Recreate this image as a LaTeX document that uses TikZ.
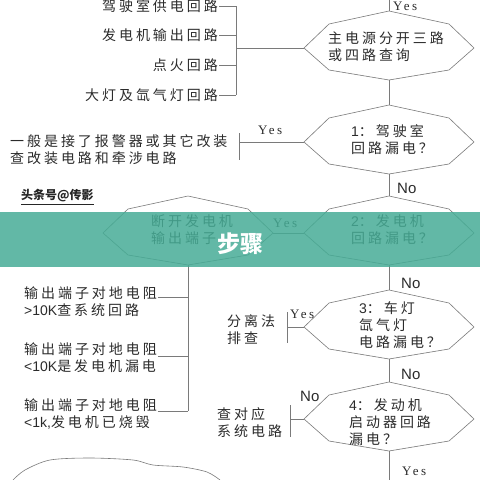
\documentclass[tikz,border=0pt]{standalone}
\usepackage{fontspec}
\newfontfamily\cjk[LetterSpace=21]{Noto Sans CJK SC}
\newfontfamily\cjkplain{Noto Sans CJK SC}
\newfontfamily\latin{Liberation Sans}
\newfontfamily\yesfont[LetterSpace=20]{Liberation Serif}
\newfontfamily\nofont{Liberation Sans}
\definecolor{ink}{HTML}{2B2B2B}
\definecolor{wire}{HTML}{7A7A7A}
\definecolor{band}{RGB}{70,172,150}
% octagon decision box: name, centre x, centre y
\newcommand{\decision}[3]{%
  \coordinate (#1-top) at (#2,#3-37);
  \coordinate (#1-bot) at (#2,#3+32);
  \coordinate (#1-left) at (#2-85,#3);
  \coordinate (#1-right) at (#2+85,#3);
  \draw[lane] (#1-left) -- (#2-60,#3-24) -- (#1-top) -- (#2+60,#3-24)
    -- (#1-right) -- (#2+60,#3+22) -- (#1-bot) -- (#2-60,#3+22) -- cycle;
}
\begin{document}
\begin{tikzpicture}
  [x=1pt, y=-1pt,
  every node/.style={inner sep=1pt, text=ink},
  lane/.style={draw=wire, line width=0.6pt},
  cn/.style={font=\cjk\fontsize{14}{17}\selectfont, align=left},
  yes/.style={font=\yesfont\fontsize{13}{13}\selectfont, anchor=base west, inner sep=0pt},
  no/.style={font=\nofont\fontsize{15}{15}\selectfont, anchor=base west, inner sep=0pt},
  ]
  \useasboundingbox (0,0) rectangle (480,480);

  % decision boxes
  \decision{d0}{389}{48}
  \decision{d1}{389}{142}
  \decision{d2}{389}{233}
  \decision{d3}{389}{327}
  \decision{d4}{389}{419}
  \decision{dl}{188}{233}

  \node[cn, anchor=west] (q0) at (327,47) {主电源分开三路\\或四路查询};
  \node[cn, anchor=west] (q1) at (350,140) {{\latin 1}：驾驶室\\回路漏电？};
  \node[cn, anchor=west] (q2) at (350,230) {{\latin 2}：发电机\\回路漏电？};
  \node[cn, anchor=west] (q3) at (358,325) {{\latin 3}：车灯\\氙气灯\\电路漏电？};
  \node[cn, anchor=west] (q4) at (348,422) {{\latin 4}：发动机\\启动器回路\\漏电？};
  \node[cn, anchor=west] (ql) at (150,230) {断开发电机\\输出端子};

  % main spine
  \coordinate (top) at (389,0);
  \coordinate (bottom) at (389,480);
  \draw[lane] (top) -- (d0-top);
  \draw[lane] (d0-bot) -- (d1-top);
  \draw[lane] (d1-bot) -- (d2-top);
  \draw[lane] (d2-bot) -- (d3-top);
  \draw[lane] (d3-bot) -- (d4-top);
  \draw[lane] (d4-bot) -- (bottom);
  \draw[lane] (dl-right) -- (d2-left);

  \node[yes] (y0) at (393,10) {Yes};
  \node[no] (n1) at (397,193) {No};
  \node[yes] (y2) at (273,227) {Yes};
  \node[no] (n2) at (401,288) {No};
  \node[no] (n3) at (401,379) {No};
  \node[yes] (y5) at (402,475) {Yes};

  % circuits of the main supply
  \coordinate (bus) at (236,48);
  \foreach \y/\t [count=\i] in {6/驾驶室供电回路, 35/发电机输出回路, 65/点火回路, 95/大灯及氙气灯回路} {
    \node[cn, anchor=east] (c\i) at (219,\y) {\t};
    \draw[lane] (c\i.east) -- (c\i.east -| bus);
  }
  \draw[lane] (c1.east -| bus) -- (c4.east -| bus);
  \draw[lane] (d0-left) -- (bus);

  % step 1 yes
  \node[yes] (y1) at (258,134) {Yes};
  \node[cn, anchor=west] (alarm) at (9,150) {一般是接了报警器或其它改装\\查改装电路和牵涉电路};
  \coordinate (b1a) at (239,133);
  \coordinate (b1b) at (239,160);
  \draw[lane] (b1a) -- (b1b);
  \draw[lane] (d1-left) -- (d1-left -| b1a);

  \node[font=\cjkplain\bfseries\fontsize{12}{12}\selectfont, anchor=west, text=black!85]
    (mark) at (20,197) {\underline{头条号@传影}};

  % results of the output terminal
  \coordinate (lr1) at (188,297);
  \coordinate (lr2) at (188,356);
  \coordinate (lr3) at (188,411);
  \node[cn, anchor=west] (r1) at (23,302) {输出端子对地电阻\\{\latin >10K}查系统回路};
  \node[cn, anchor=west] (r2) at (23,358) {输出端子对地电阻\\{\latin <10K}是发电机漏电};
  \node[cn, anchor=west] (r3) at (23,414) {输出端子对地电阻\\{\latin <1k,}发电机已烧毁};
  \draw[lane] (dl-bot) -- (lr3);
  \draw[lane] (lr1 -| r1.east) -- (lr1);
  \draw[lane] (lr2 -| r2.east) -- (lr2);
  \draw[lane] (lr3 -| r3.east) -- (lr3);

  % step 3 yes
  \node[yes] (y3) at (290,318) {Yes};
  \node[cn, anchor=west] (split) at (226,330) {分离法\\排查};
  \coordinate (b3a) at (287,312);
  \coordinate (b3b) at (287,343);
  \draw[lane] (b3a) -- (b3b);
  \draw[lane] (d3-left) -- (d3-left -| b3a);

  % step 4 no
  \node[no] (n4) at (300,401) {No};
  \node[cn, anchor=west] (sys) at (216,423) {查对应\\系统电路};
  \coordinate (b4a) at (290,405);
  \coordinate (b4b) at (290,437);
  \draw[lane] (b4a) -- (b4b);
  \draw[lane] (d4-left) -- (d4-left -| b4a);

  % bubble at the bottom
  \draw[lane] plot[smooth] coordinates {(13,480) (25,470) (50,460) (90,458) (133,460) (153,465) (183,467) (207,472) (220,480)};

  % banner
  \fill[band, opacity=0.85] (0,212) rectangle (480,267);
  \node[font=\cjkplain\bfseries\fontsize{23}{23}\selectfont, text=white] (banner) at (240,244) {步骤};
\end{tikzpicture}
\end{document}
